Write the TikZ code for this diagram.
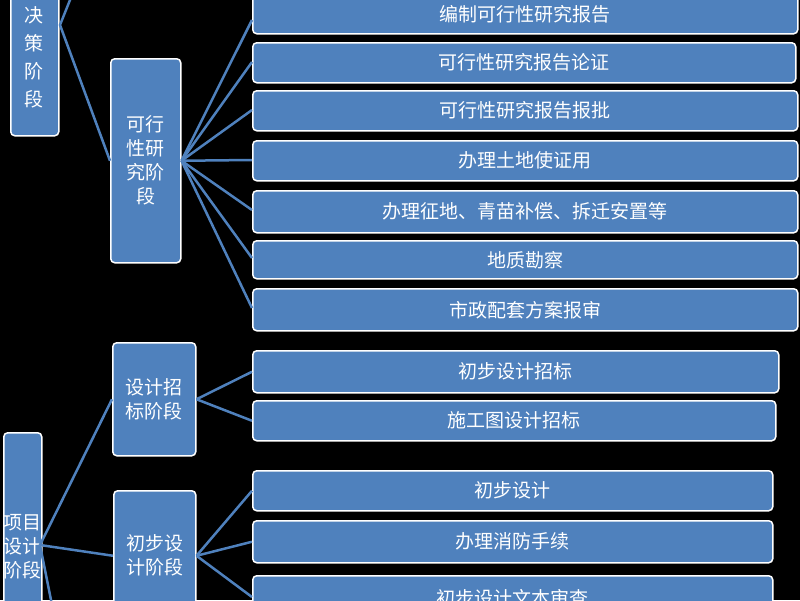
\documentclass[tikz,border=0pt]{standalone}
\usepackage{fontspec}
\setmainfont{Noto Sans CJK SC}
\definecolor{bb}{RGB}{79,129,189}
\begin{document}
\begin{tikzpicture}[x=1pt,y=-1pt,
 box/.style={draw=white,line width=1.5pt,fill=bb,rounded corners=4pt,text=white,font=\fontsize{19}{24}\selectfont,inner sep=0pt,anchor=north west},
 ln/.style={draw=bb,line width=2.5pt}]
\fill[black] (0,0) rectangle (800,600);
\clip (0,0) rectangle (800,600);
\newcommand\bx[6]{\node[box,minimum width=#4-#2,minimum height=#5-#3,align=center] (#1) at (#2,#3) {#6};}
\bx{jc}{10}{-40}{58}{135}{}
\node[text=white,font=\fontsize{19}{28}\selectfont,align=center] (jct) at (34,57) {决\\策\\阶\\段};
\bx{kx}{110}{58}{180}{262}{可行\\性研\\究阶\\段}
\bx{r1}{252}{-5}{797}{33}{编制可行性研究报告}
\bx{r2}{252}{42}{795}{82}{可行性研究报告论证}
\bx{r3}{252}{90}{797}{130}{可行性研究报告报批}
\bx{r4}{252}{140}{797}{180}{办理土地使证用}
\bx{r5}{252}{190}{797}{232}{办理征地、青苗补偿、拆迁安置等}
\bx{r6}{252}{240}{797}{278}{地质勘察}
\bx{r7}{252}{288}{797}{330}{市政配套方案报审}
\bx{sj}{112}{342}{195}{455}{设计招\\标阶段}
\bx{s1}{252}{350}{778}{392}{初步设计招标}
\bx{s2}{252}{400}{775}{440}{施工图设计招标}
\bx{xm}{3}{432}{38}{660}{项目\\设计\\阶段}
\bx{cb}{113}{490}{195}{620}{初步设\\计阶段}
\bx{c1}{252}{470}{772}{510}{初步设计}
\bx{c2}{252}{520}{772}{562}{办理消防手续}
\bx{c3}{252}{575}{772}{620}{初步设计文本审查}
\coordinate (j0) at (60,25);
\coordinate (jtop) at (72,-5);
\coordinate (xbot) at (52,605);
\coordinate (xs) at (40,545);
\draw[ln] (jtop) -- (j0) -- (kx.west);
\foreach \r/\y in {r1/20,r2/62,r3/110,r4/160,r5/210,r6/258,r7/308}
  \draw[ln] (kx.east) -- (252,\y);
\draw[ln] (sj.west) -- (xs) -- (cb.west);
\draw[ln] (xs) -- (xbot);
\draw[ln] (sj.east) -- (s1.west);
\draw[ln] (sj.east) -- (s2.west);
\draw[ln] (cb.east) -- (c1.west);
\draw[ln] (cb.east) -- (c2.west);
\draw[ln] (cb.east) -- (252,597);
\end{tikzpicture}
\end{document}
